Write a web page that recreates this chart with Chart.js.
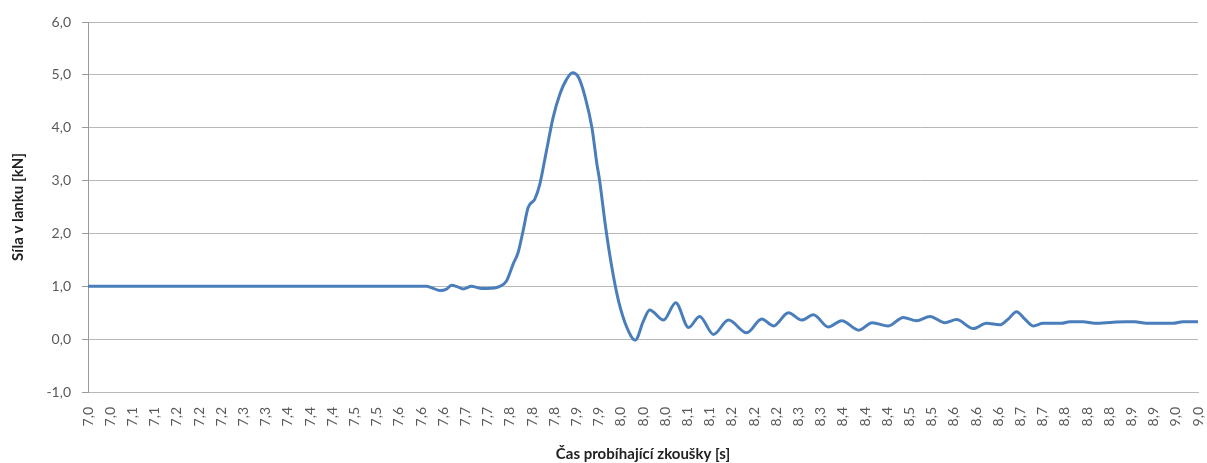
<!DOCTYPE html>
<html>
<head>
<meta charset="utf-8">
<script src="https://cdn.jsdelivr.net/npm/chart.js@4/dist/chart.umd.min.js"></script>
<style>
  body { margin: 0; background: #fff; }
  #wrap { width: 1207px; height: 463px; }
</style>
</head>
<body>
<div id="wrap"><canvas id="myChart"></canvas></div>
<script>
// times [s] and force in the rope [kN]
const times = [
  7.000, 7.610, 7.620, 7.634, 7.645, 7.655, 7.666, 7.676, 7.691, 7.700,
  7.709, 7.720, 7.742, 7.754, 7.766, 7.775, 7.784, 7.793, 7.805, 7.814,
  7.826, 7.838, 7.850, 7.862, 7.873, 7.884, 7.896, 7.908, 7.917, 7.922,
  7.932, 7.944, 7.956, 7.971, 7.986, 8.001, 8.012, 8.037, 8.059, 8.082,
  8.102, 8.127, 8.154, 8.187, 8.214, 8.235, 8.262, 8.286, 8.307, 8.334,
  8.358, 8.389, 8.413, 8.442, 8.469, 8.493, 8.517, 8.544, 8.565, 8.595,
  8.619, 8.643, 8.658, 8.673, 8.688, 8.703, 8.721, 8.754, 8.769, 8.793,
  8.814, 8.847, 8.871, 8.886, 8.907, 8.955, 8.973, 9.000
];
const forces = [
  1.00, 1.00, 0.97, 0.92, 0.94, 1.02, 0.99, 0.95, 1.00, 0.98,
  0.96, 0.96, 1.00, 1.10, 1.42, 1.64, 2.05, 2.49, 2.65, 2.93,
  3.56, 4.19, 4.63, 4.91, 5.04, 4.95, 4.57, 4.00, 3.31, 2.99,
  2.17, 1.35, 0.72, 0.22, -0.02, 0.35, 0.55, 0.36, 0.69, 0.22,
  0.43, 0.09, 0.36, 0.12, 0.38, 0.25, 0.50, 0.36, 0.46, 0.23,
  0.35, 0.17, 0.31, 0.25, 0.41, 0.35, 0.43, 0.31, 0.37, 0.20,
  0.30, 0.27, 0.38, 0.52, 0.38, 0.25, 0.30, 0.30, 0.33, 0.33,
  0.30, 0.32, 0.33, 0.33, 0.30, 0.30, 0.33, 0.33
];

const xMin = 7.0, xMax = 9.0, xStep = 0.04;
const yMin = -1, yMax = 6, yStep = 1;

const points = times.map((t, i) => ({x: t, y: forces[i]}));

function czech(v){
    return Number(v).toFixed(1).replace('.', ',');
}

const fontName = 'Lato, "Open Sans", sans-serif';

const ctx = document.getElementById('myChart');

const config = {
    type: 'line',
    data: {
        datasets: [{
            label: 'Síla',
            data: points,
            borderColor: '#4a7ebb',
            borderWidth: 3,
            pointRadius: 0,
            cubicInterpolationMode: 'monotone',
            fill: false
        }]
    },
    options: {
        responsive: true,
        maintainAspectRatio: false,
        animation: false,
        layout: { padding: { top: 22, right: 9, bottom: 0, left: 0 } },
        plugins: {
            legend: { display: false },
            tooltip: { enabled: false }
        },
        scales: {
            x: {
                type: 'linear',
                min: xMin,
                max: xMax,
                afterBuildTicks(scale) {
                    const ticks = [];
                    for (let i = 0; i <= Math.round((xMax - xMin) / xStep); i++) {
                        ticks.push({value: xMin + i * xStep});
                    }
                    scale.ticks = ticks;
                },
                afterFit(scale) {
                    scale.height = 71;
                    scale.paddingLeft = 0;
                    scale.paddingRight = 0;
                },
                grid: { display: true, drawOnChartArea: false, drawTicks: false },
                border: { display: true, color: '#b8b8b8', width: 1 },
                ticks: {
                    autoSkip: false,
                    minRotation: 90,
                    maxRotation: 90,
                    padding: 15,
                    color: '#595959',
                    font: { family: fontName, size: 14 },
                    callback: v => czech(v)
                },
                title: {
                    display: true,
                    text: 'Čas probíhající zkoušky [s]',
                    color: '#222',
                    font: { family: fontName, size: 15, weight: 'bold' },
                    padding: { top: 0, bottom: 0 }
                }
            },
            y: {
                min: yMin,
                max: yMax,
                afterFit(scale) { scale.width = 88; },
                grid: { color: '#b8b8b8', lineWidth: 1, tickLength: 6, tickColor: '#9a9a9a' },
                border: { display: true, color: '#9a9a9a', width: 1 },
                ticks: {
                    stepSize: yStep,
                    padding: 11,
                    color: '#595959',
                    font: { family: fontName, size: 14 },
                    callback: v => czech(v)
                },
                title: {
                    display: true,
                    text: 'Síla v lanku [kN]',
                    color: '#222',
                    font: { family: fontName, size: 15, weight: 'bold' },
                    padding: { top: 9, bottom: 0 }
                }
            }
        }
    }
};

new Chart(ctx, config);
</script>
</body>
</html>
